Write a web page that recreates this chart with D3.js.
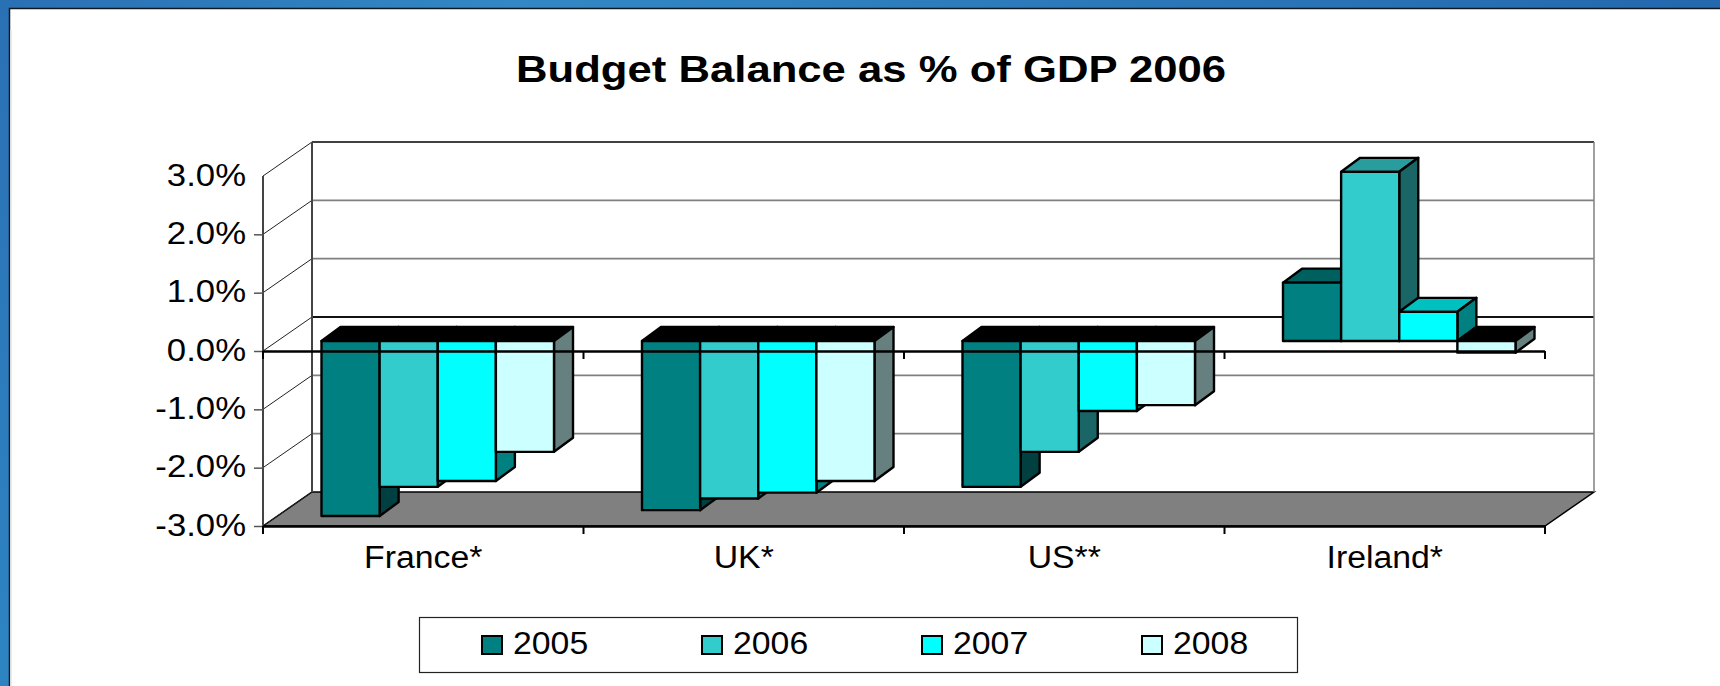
<!DOCTYPE html>
<html lang="en">
<head>
<meta charset="utf-8">
<script src="https://d3js.org/d3.v7.min.js"></script>
<style>
body { margin: 0; background: #fff; }
svg { display: block; }
text { font-family: "Liberation Sans", Arial, sans-serif; fill: #000; }
</style>
</head>
<body>
<script>
var categories = ["France*", "UK*", "US**", "Ireland*"];
var years = ["2005", "2006", "2007", "2008"];
var values2005 = [-3.0, -2.9, -2.5, 1.0];
var values2006 = [-2.5, -2.7, -1.9, 2.9];
var values2007 = [-2.4, -2.6, -1.2, 0.5];
var values2008 = [-1.9, -2.4, -1.1, -0.2];
var seriesValues = [values2005, values2006, values2007, values2008];
var yTicks = [-3, -2, -1, 0, 1, 2, 3];

var frontColors = ["#008080", "#33cccc", "#00ffff", "#ccffff"];
var topColors = ["#006060", "#299d9d", "#00c0c0", "#99c0c0"];
var sideColors = ["#004040", "#1a6666", "#008080", "#668080"];

var width = 1720, height = 686;
var wallDx = 49, wallDy = -34;     // depth of the 3d box
var barPlaneDy = -10;              // bars stand a bit behind the front edge
var barDx = 19, barDy = -14;

var svg = d3.select("body").append("svg").attr("width", width).attr("height", height);

// slide frame
var defs = svg.append("defs");
var topGrad = defs.append("linearGradient").attr("id", "topGrad");
topGrad.append("stop").attr("offset", "0%").attr("stop-color", "#2a70b4");
topGrad.append("stop").attr("offset", "30%").attr("stop-color", "#3288c4");
topGrad.append("stop").attr("offset", "100%").attr("stop-color", "#2468ae");
var leftGrad = defs.append("linearGradient").attr("id", "leftGrad")
  .attr("x1", 0).attr("y1", 0).attr("x2", 0).attr("y2", 1);
leftGrad.append("stop").attr("offset", "0%").attr("stop-color", "#2a70b4");
leftGrad.append("stop").attr("offset", "100%").attr("stop-color", "#2e84c2");

svg.append("rect").attr("width", width).attr("height", 9).attr("fill", "url(#topGrad)");
svg.append("rect").attr("width", 9).attr("height", height).attr("fill", "url(#leftGrad)");
svg.append("path").attr("d", "M9.5," + height + "V8.5H" + width)
  .attr("fill", "none").attr("stroke", "#101820").attr("stroke-width", 1.5);
svg.append("path").attr("d", "M11,30V" + height)
  .attr("stroke", "#e4e4e4").attr("stroke-width", 1.5);

// stretches a text horizontally, the source picture is a bit wider than tall
function stretch(sel, k) {
  sel.each(function() {
    var w = this.getComputedTextLength();
    d3.select(this).attr("textLength", w * k).attr("lengthAdjust", "spacingAndGlyphs");
  });
}

var x = d3.scaleBand().domain(categories).range([263, 1545]);
var y = d3.scaleLinear().domain([-3, 3]).range([526, 176]);
var xBar = d3.scaleBand().domain(years).range([58.5, 291]);

// walls and floor
var floorY = y(-3);
svg.append("path")
  .attr("d", "M" + x.range()[0] + "," + floorY + "l" + wallDx + "," + wallDy + "H" + (x.range()[1] + wallDx) + "L" + x.range()[1] + "," + floorY + "Z")
  .attr("fill", "#808080").attr("stroke", "#000").attr("stroke-width", 1.5);

var grid = svg.append("g");
grid.selectAll("line.back").data(yTicks.filter(function(d) { return d > -3; })).enter().append("line")
  .attr("x1", x.range()[0] + wallDx).attr("x2", x.range()[1] + wallDx)
  .attr("y1", function(d) { return y(d) + wallDy; }).attr("y2", function(d) { return y(d) + wallDy; })
  .attr("stroke", function(d) { return d === 3 ? "#000" : d === 0 ? "#111" : "#808080"; })
  .attr("stroke-width", function(d) { return d === 0 ? 2.2 : d === 3 ? 1.5 : 1.8; });
grid.selectAll("line.side").data(yTicks).enter().append("line")
  .attr("x1", x.range()[0]).attr("x2", x.range()[0] + wallDx)
  .attr("y1", function(d) { return y(d); }).attr("y2", function(d) { return y(d) + wallDy; })
  .attr("stroke", "#222").attr("stroke-width", 1);
grid.append("line").attr("x1", x.range()[0]).attr("x2", x.range()[0])
  .attr("y1", y(3)).attr("y2", y(-3)).attr("stroke", "#444").attr("stroke-width", 2);
grid.append("line").attr("x1", x.range()[0] + wallDx).attr("x2", x.range()[0] + wallDx)
  .attr("y1", y(3) + wallDy).attr("y2", y(-3) + wallDy).attr("stroke", "#444").attr("stroke-width", 2);
grid.append("line").attr("x1", x.range()[1] + wallDx).attr("x2", x.range()[1] + wallDx)
  .attr("y1", y(3) + wallDy).attr("y2", y(-3) + wallDy).attr("stroke", "#808080").attr("stroke-width", 1.5);

// bars, left to right so the next bar covers the side of the previous one
var rows = [];
categories.forEach(function(c, ci) {
  years.forEach(function(yr, si) {
    rows.push({ cat: c, year: yr, si: si, value: seriesValues[si][ci] });
  });
});

var bars = svg.append("g").attr("stroke", "#000").attr("stroke-width", 2.4).attr("stroke-linejoin", "round");
rows.forEach(function(d) {
  var x0 = x(d.cat) + xBar(d.year);
  var w = xBar.bandwidth();
  var y0 = y(0) + barPlaneDy;
  var yv = y(d.value) + barPlaneDy;
  var yTop = Math.min(y0, yv), yBot = Math.max(y0, yv);
  var g = bars.append("g");
  g.append("path")
    .attr("d", "M" + x0 + "," + yTop + "l" + barDx + "," + barDy + "h" + w + "l" + (-barDx) + "," + (-barDy) + "Z")
    .attr("fill", d.value < 0 ? "#000" : topColors[d.si]);
  g.append("path")
    .attr("d", "M" + (x0 + w) + "," + yTop + "l" + barDx + "," + barDy + "V" + (yBot + barDy) + "L" + (x0 + w) + "," + yBot + "Z")
    .attr("fill", sideColors[d.si]);
  g.append("rect").attr("x", x0).attr("y", yTop).attr("width", w).attr("height", yBot - yTop)
    .attr("fill", frontColors[d.si]);
});

// y axis, the top value has a label but no tick mark
var yAxis = d3.axisLeft(y).tickValues(yTicks)
  .tickFormat(function(d) { return d3.format(".1f")(d).replace("−", "-") + "%"; })
  .tickSize(9).tickPadding(8);
var yG = svg.append("g").attr("transform", "translate(" + x.range()[0] + ",0)").call(yAxis);
yG.select(".domain").remove();
yG.selectAll(".tick line").attr("stroke", "#555").attr("stroke-width", 1.5)
  .filter(function(d) { return d === 3; }).remove();
yG.selectAll(".tick text").attr("font-size", 31).attr("dy", "0.29em").call(stretch, 1.12);

// category axis at the bottom, with the plain zero line above it
var xAxis = d3.axisBottom(x).tickSize(0).tickPadding(20);
var xG = svg.append("g").attr("transform", "translate(0," + floorY + ")").call(xAxis);
xG.select(".domain").remove();
xG.selectAll("text").attr("font-size", 31).attr("dy", "0.71em").call(stretch, 1.09);

var boundaries = categories.map(function(c) { return x(c); }).concat([x.range()[1]]);
[y(-3), y(0)].forEach(function(py, i) {
  svg.append("line").attr("x1", x.range()[0]).attr("x2", x.range()[1])
    .attr("y1", py + 0.5).attr("y2", py + 0.5)
    .attr("stroke", "#000").attr("stroke-width", 2.5);
  svg.selectAll("line.tick" + i).data(boundaries).enter().append("line")
    .attr("class", "tick" + i)
    .attr("x1", function(d) { return d; }).attr("x2", function(d) { return d; })
    .attr("y1", py).attr("y2", py + 8)
    .attr("stroke", "#000").attr("stroke-width", 2);
});

// title
svg.append("text").attr("x", 871).attr("y", 82).attr("text-anchor", "middle")
  .attr("font-size", 37).attr("font-weight", "bold")
  .text("Budget Balance as % of GDP 2006")
  .attr("textLength", 710).attr("lengthAdjust", "spacingAndGlyphs");

// legend
svg.append("rect").attr("x", 419.5).attr("y", 617.5).attr("width", 878).attr("height", 55)
  .attr("fill", "#fff").attr("stroke", "#222").attr("stroke-width", 1.2);
var legendX = d3.scalePoint().domain(years).range([482, 1142]);
var legend = svg.selectAll("g.legend").data(years).enter().append("g")
  .attr("class", "legend")
  .attr("transform", function(d) { return "translate(" + legendX(d) + ",636)"; });
legend.append("rect").attr("width", 20).attr("height", 18)
  .attr("fill", function(d, i) { return frontColors[i]; })
  .attr("stroke", "#000").attr("stroke-width", 2);
legend.append("text").attr("x", 31).attr("y", 18).attr("font-size", 31)
  .text(function(d) { return d; }).call(stretch, 1.09);
</script>
</body>
</html>
